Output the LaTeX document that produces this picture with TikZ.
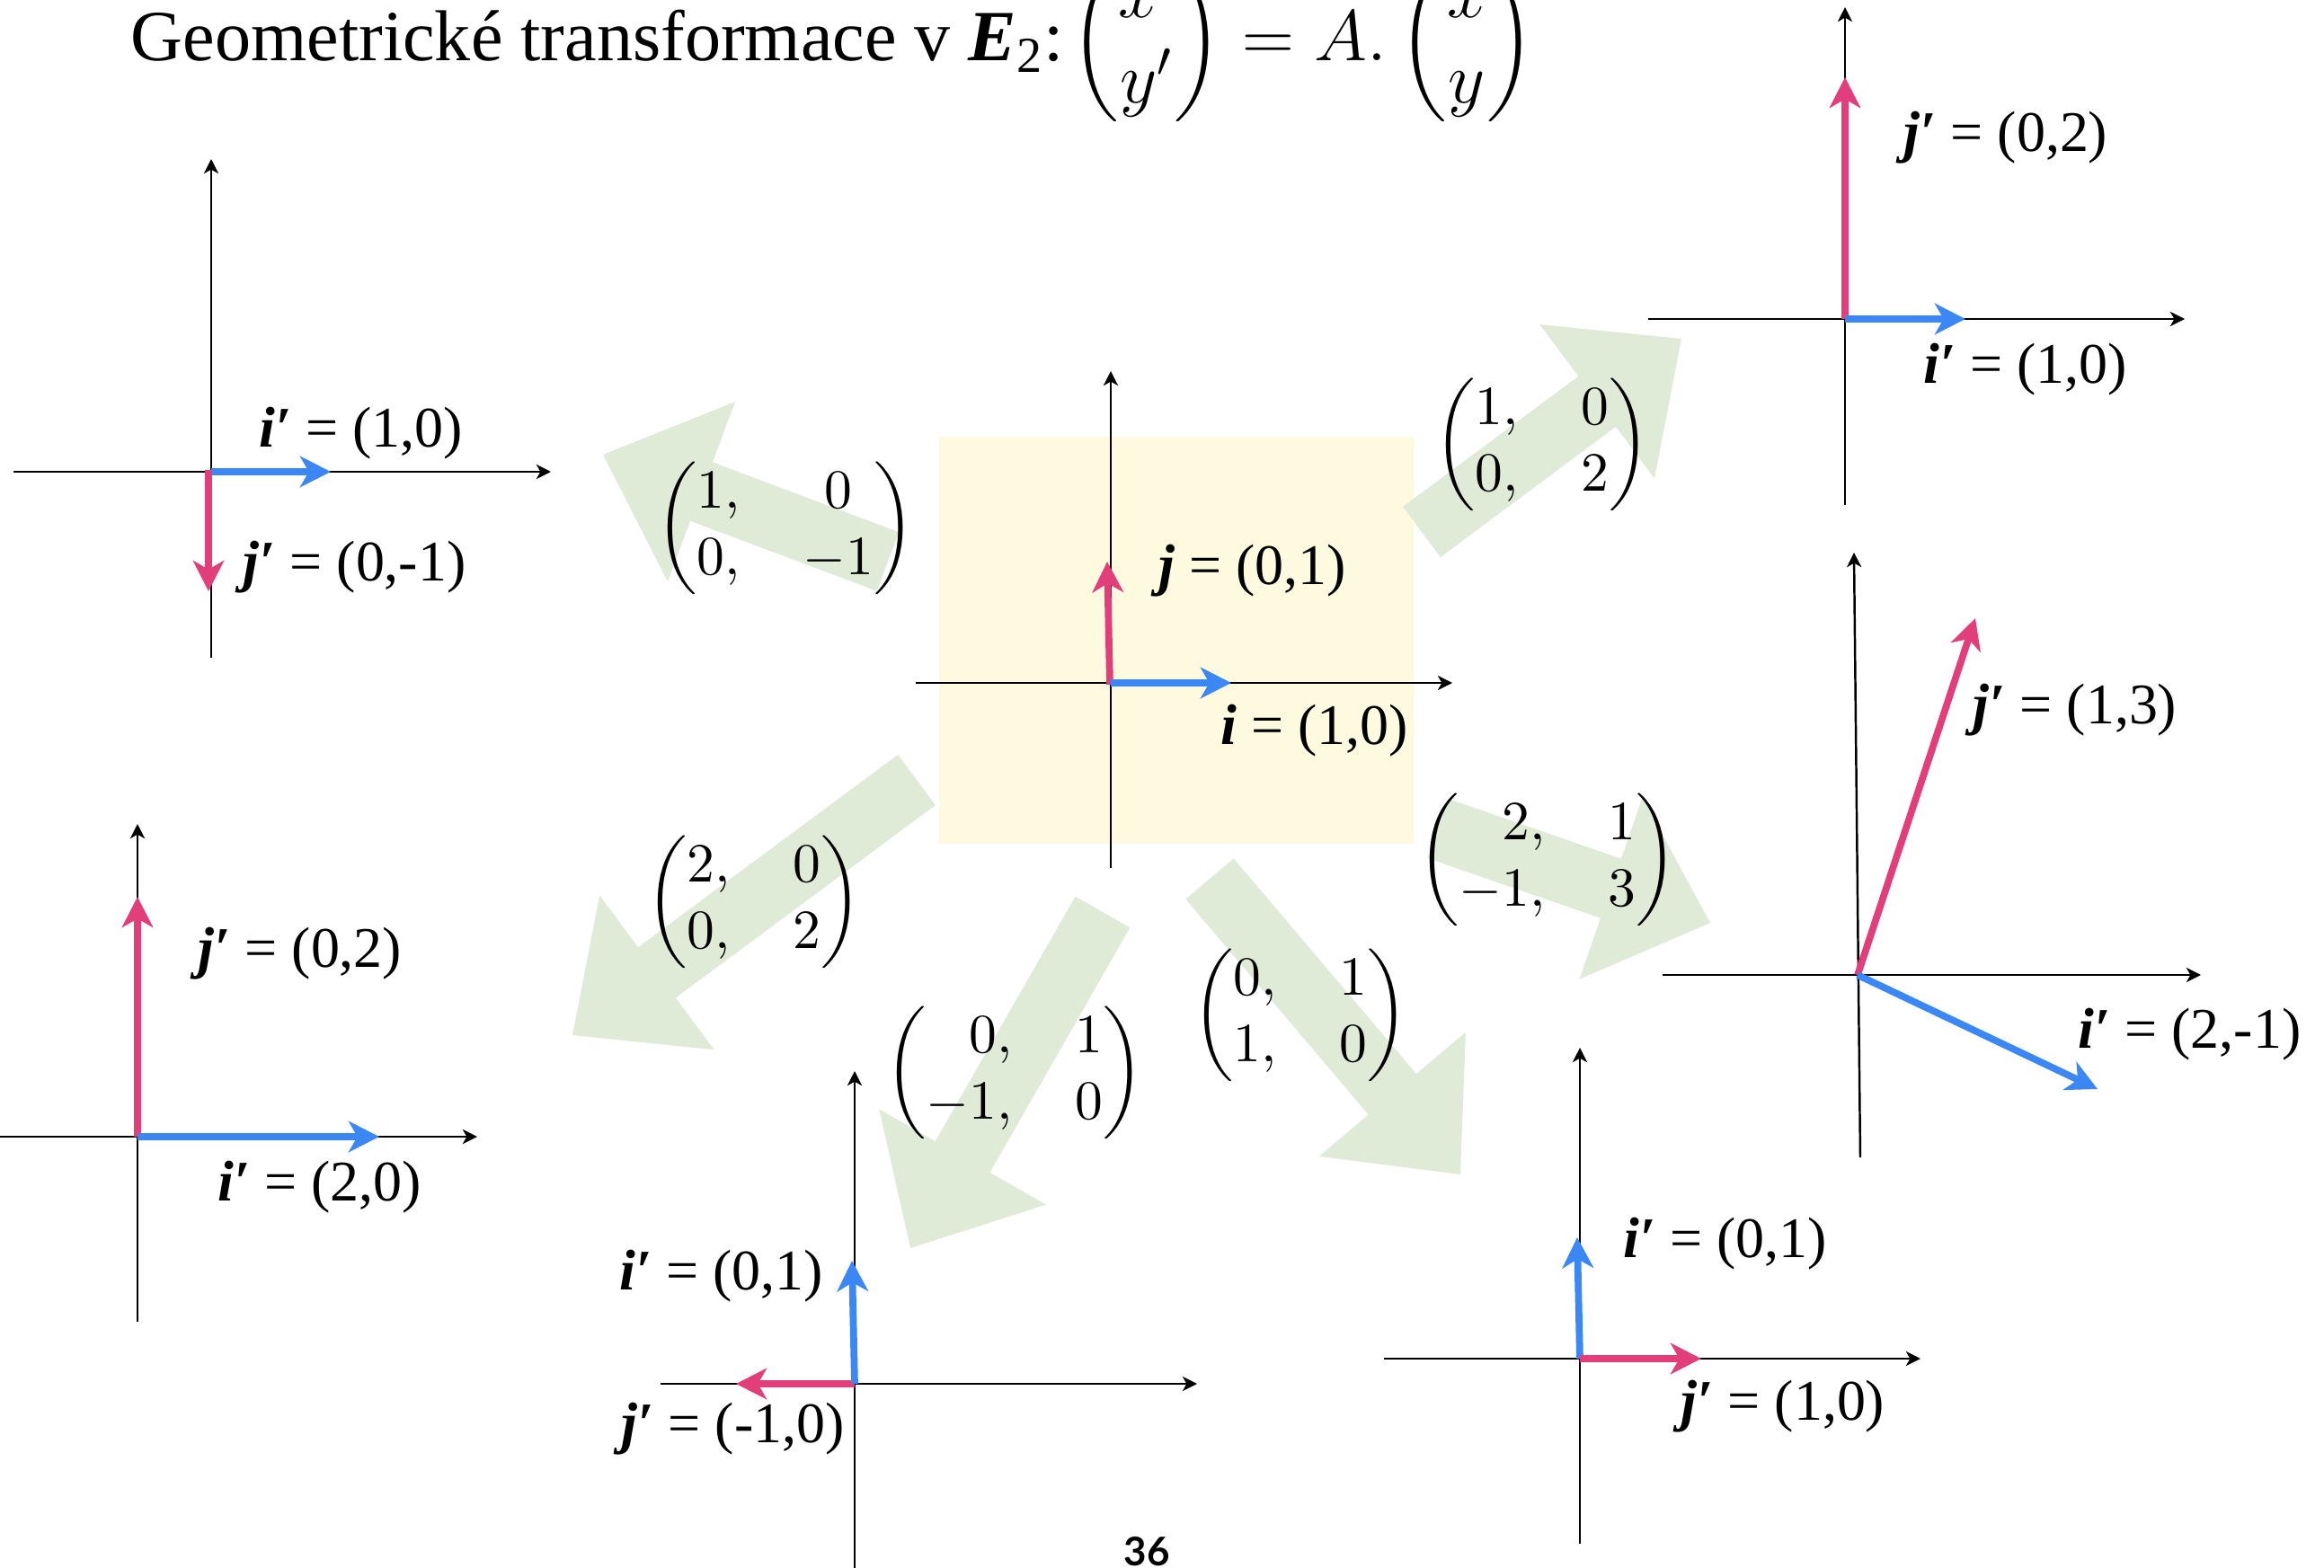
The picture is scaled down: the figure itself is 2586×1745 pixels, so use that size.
\RequirePackage{fix-cm}
\documentclass[tikz,border=0pt]{standalone}
\usepackage{amsmath}
\usepackage{graphicx}
\usepackage[no-math]{fontspec}
\setmainfont{Liberation Serif}
\newfontfamily\pgfont{Lato}
\usetikzlibrary{arrows.meta,calc}
\definecolor{vblue}{RGB}{58,135,245}
\definecolor{vred}{RGB}{226,62,122}
\definecolor{gfill}{RGB}{223,235,214}
\definecolor{yfill}{RGB}{253,250,223}
\newcommand\bi[1]{\textbf{\textit{#1}}}
\newcommand\pr{\bi{\char"2032}}
\newcommand\mtx[4]{\scalebox{1.75}{\fontsize{10}{12}\selectfont$\left(\begin{array}{@{}r@{\hspace{11.4pt}}c@{}}#1,&#2\\#3,&#4\end{array}\right)$}}
% block arrow: name, tail, tip
\newcommand\garrow[3]{%
  \coordinate (#1t) at #2;
  \coordinate (#1h) at #3;
  \coordinate (#1b) at ($(#1h)!11.7mm!(#1t)$);
  \fill[gfill] ($(#1t)!3.5mm!90:(#1h)$) -- ($(#1b)!3.5mm!90:(#1h)$) -- ($(#1b)!10.7mm!90:(#1h)$)
    -- (#1h) -- ($(#1b)!10.7mm!-90:(#1h)$) -- ($(#1b)!3.5mm!-90:(#1h)$) -- ($(#1t)!3.5mm!-90:(#1h)$) -- cycle;
}
\tikzset{
  axisline/.style={line width=0.7pt,-{Stealth[length=4.6pt,width=4.6pt,inset=1.3pt]}},
  vecb/.style={line width=2.2pt,draw=vblue,-{Stealth[length=9.7pt,width=9.8pt,inset=2.8pt]}},
  vecr/.style={line width=2.2pt,draw=vred,-{Stealth[length=9.7pt,width=9.8pt,inset=2.8pt]}},
  lab/.style={anchor=base west,inner sep=0pt,font=\fontsize{18.2}{21.8}\selectfont},
  mat/.style={inner sep=0pt},
}
\begin{document}
\begin{tikzpicture}[x=0.1mm,y=-0.1mm]
\useasboundingbox (0,0) rectangle (2586,1745);
\clip (0,0) rectangle (2586,1745);
% yellow square
\fill[yfill] (1045,486) rectangle (1573,939);
% green block arrows
\garrow{A1}{(988,625)}{(671,506)}
\garrow{A2}{(1582,592)}{(1871,377)}
\garrow{A3}{(1020,868)}{(637,1152)}
\garrow{A4}{(1227,1015)}{(1013,1389)}
\garrow{A5}{(1346,978)}{(1625,1307)}
\garrow{A6}{(1600,922)}{(1903,1027)}
% title
\node[anchor=base west,inner sep=0pt,font=\fontsize{22.8}{27}\selectfont] (title) at (145,68)
  {Geometrické transformace v \bi{E}\textsubscript{2}:\hspace{2.2pt}$\begin{pmatrix}x'\\ y'\end{pmatrix}=A.\begin{pmatrix}x\\ y\end{pmatrix}$};
% matrices
\node[mat] (m1) at (874,588) {\mtx{1}{0}{0}{-1}};
\node[mat] (m2) at (1716,495) {\mtx{1}{0}{0}{2}};
\node[mat] (m3) at (839,1004) {\mtx{2}{0}{0}{2}};
\node[mat] (m4) at (1129,1194) {\mtx{0}{1}{-1}{0}};
\node[mat] (m5) at (1447,1130) {\mtx{0}{1}{1}{0}};
\node[mat] (m6) at (1722,957) {\mtx{2}{1}{-1}{3}};
% ---- center panel
\coordinate (cO) at (1236,760);
\coordinate (cxl) at (1019,760); \coordinate (cxr) at (1616,760);
\coordinate (cyb) at (1236,966); \coordinate (cyt) at (1236,413);
\draw[axisline] (cxl) -- (cxr);
\draw[axisline] (cyb) -- (cyt);
\coordinate (ci) at (1370,760); \coordinate (cj) at (1232,625);
\draw[vecr] (1235,762) -- (cj);
\draw[vecb] (cO) -- (ci);
\node[lab] (cjl) at (1289,650) {\bi{j} = (0,1)};
\node[lab] (cil) at (1358,828) {\bi{i} = (1,0)};
% ---- top-left panel
\coordinate (aO) at (235,525);
\coordinate (axl) at (15,525); \coordinate (axr) at (613,525);
\coordinate (ayb) at (235,732); \coordinate (ayt) at (235,177);
\draw[axisline] (axl) -- (axr);
\draw[axisline] (ayb) -- (ayt);
\coordinate (ai) at (368,525); \coordinate (aj0) at (232,523); \coordinate (aj) at (232,658);
\draw[vecb] (aO) -- (ai);
\draw[vecr] (aj0) -- (aj);
\node[lab] (ail) at (288,497) {\bi{i}\pr{} = (1,0)};
\node[lab] (ajl) at (270,646) {\bi{j}\pr{} = (0,-1)};
% ---- top-right panel
\coordinate (bO) at (2053,355);
\coordinate (bxl) at (1834,355); \coordinate (bxr) at (2431,355);
\coordinate (byb) at (2053,562); \coordinate (byt) at (2053,8);
\draw[axisline] (bxl) -- (bxr);
\draw[axisline] (byb) -- (byt);
\coordinate (bi) at (2187,355); \coordinate (bj) at (2053,86);
\draw[vecr] (bO) -- (bj);
\draw[vecb] (bO) -- (bi);
\node[lab] (bjl) at (2118,169) {\bi{j}\pr{} = (0,2)};
\node[lab] (bil) at (2140,426) {\bi{i}\pr{} = (1,0)};
% ---- right-middle panel
\coordinate (rO) at (2067,1085);
\coordinate (rxl) at (1850,1085); \coordinate (rxr) at (2449,1085);
\coordinate (ryb) at (2070,1288); \coordinate (ryt) at (2063,615);
\draw[axisline] (rxl) -- (rxr);
\draw[axisline] (ryb) -- (ryt);
\coordinate (ri) at (2334,1212); \coordinate (rj) at (2198,688);
\draw[vecr] (rO) -- (rj);
\draw[vecb] (rO) -- (ri);
\node[lab] (rjl) at (2195,805) {\bi{j}\pr{} = (1,3)};
\node[lab] (ril) at (2312,1166) {\bi{i}\pr{} = (2,-1)};
% ---- bottom-left panel
\coordinate (lO) at (153,1265);
\coordinate (lxl) at (0,1265); \coordinate (lxr) at (531,1265);
\coordinate (lyb) at (153,1471); \coordinate (lyt) at (153,917);
\draw[axisline] (lxl) -- (lxr);
\draw[axisline] (lyb) -- (lyt);
\coordinate (li) at (422,1265); \coordinate (lj) at (153,998);
\draw[vecr] (lO) -- (lj);
\draw[vecb] (lO) -- (li);
\node[lab] (ljl) at (220,1076) {\bi{j}\pr{} = (0,2)};
\node[lab] (lil) at (242,1336) {\bi{i}\pr{} = (2,0)};
% ---- bottom-center panel
\coordinate (dO) at (951,1540);
\coordinate (dxl) at (735,1540); \coordinate (dxr) at (1332,1540);
\coordinate (dyb) at (951,1760); \coordinate (dyt) at (951,1192);
\draw[axisline] (dxl) -- (dxr);
\draw[axisline] (dyb) -- (dyt);
\coordinate (di) at (948,1403); \coordinate (dj) at (819,1540);
\draw[vecr] (dO) -- (dj);
\draw[vecb] (dO) -- (di);
\node[lab] (dil) at (689,1435) {\bi{i}\pr{} = (0,1)};
\node[lab] (djl) at (691,1605) {\bi{j}\pr{} = (-1,0)};
% ---- bottom-right panel
\coordinate (eO) at (1758,1512);
\coordinate (exl) at (1540,1512); \coordinate (exr) at (2137,1512);
\coordinate (eyb) at (1758,1718); \coordinate (eyt) at (1758,1166);
\draw[axisline] (exl) -- (exr);
\draw[axisline] (eyb) -- (eyt);
\coordinate (ei) at (1755,1377); \coordinate (ej) at (1893,1512);
\draw[vecb] (eO) -- (ei);
\draw[vecr] (eO) -- (ej);
\node[lab] (eil) at (1806,1399) {\bi{i}\pr{} = (0,1)};
\node[lab] (ejl) at (1870,1580) {\bi{j}\pr{} = (1,0)};
% page number
\node[anchor=base,inner sep=0pt,font=\pgfont\bfseries\fontsize{12.5}{15}\selectfont] (pg) at (1276,1742) {36};
\end{tikzpicture}
\end{document}
